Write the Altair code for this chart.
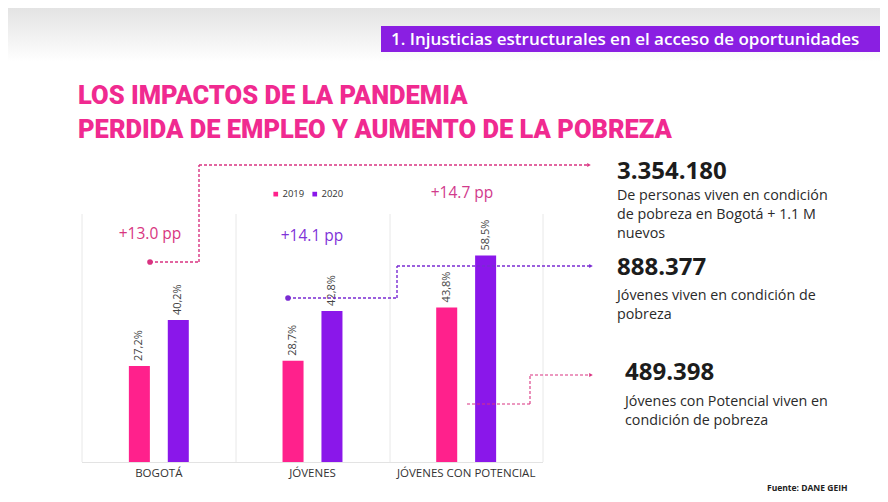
import altair as alt
import pandas as pd

# ---------------- data ----------------
categories = ["BOGOTÁ", "JÓVENES", "JÓVENES CON POTENCIAL"]
years = ["2019", "2020"]
values_2019 = [27.2, 28.7, 43.8]
values_2020 = [40.2, 42.8, 58.5]
changes = ["+13.0 pp", "+14.1 pp", "+14.7 pp"]
header_text = "1. Injusticias estructurales en el acceso de oportunidades"
title_lines = ["LOS IMPACTOS DE LA PANDEMIA", "PERDIDA DE EMPLEO Y AUMENTO DE LA POBREZA"]
stat_numbers = ["3.354.180", "888.377", "489.398"]
stat_texts = [
    ["De personas viven en condición", "de pobreza en Bogotá + 1.1 M", "nuevos"],
    ["Jóvenes viven en condición de", "pobreza"],
    ["Jóvenes con Potencial viven en", "condición de pobreza"],
]
source_text = "Fuente: DANE GEIH"

# ---------------- styling ----------------
PINK = "#FF218C"
PURPLE = "#8A17EA"
TITLE_PINK = "#F02A90"
HEADER_PURPLE = "#8A1FE2"
LINE_PINK = "#D93381"
LINE_PURPLE = "#7A2BD2"
FONT = "Open Sans"

W, H = 872, 486
OFF = 8


def px(v):
    return v - OFF


rows = []
for c, a, b in zip(categories, values_2019, values_2020):
    for y, v in zip(years, (a, b)):
        rows.append({"cat": c, "year": y, "value": v,
                     "label": f"{v:.1f}".replace(".", ",") + "%"})
bars_df = pd.DataFrame(rows)
cat_df = pd.DataFrame({"cat": categories})
one = pd.DataFrame({"k": [0]})


def base1():
    return alt.Chart(one)


layers = []

# top gray gradient band
layers.append(base1().mark_rect(
    color=alt.Gradient(gradient="linear",
                       stops=[alt.GradientStop(color="#e3e3e3", offset=0),
                              alt.GradientStop(color="#ffffff", offset=1)],
                       x1=0, x2=0, y1=0, y2=1)
).encode(x=alt.value(0), x2=alt.value(W), y=alt.value(0), y2=alt.value(px(62))))

# header band
layers.append(base1().mark_rect(color=HEADER_PURPLE).encode(
    x=alt.value(px(381)), x2=alt.value(W), y=alt.value(px(26)), y2=alt.value(px(52))))
layers.append(base1().mark_text(
    text=header_text, color="white", font=FONT, fontSize=17, fontWeight=600,
    align="left", baseline="middle").encode(x=alt.value(px(391)), y=alt.value(px(39.5))))

# main title
layers.append(base1().mark_text(
    text=title_lines, color=TITLE_PINK, font="Roboto", fontSize=25.5,
    fontWeight=900, align="left", baseline="alphabetic", lineHeight=34
).encode(x=alt.value(px(78)), y=alt.value(px(104))))

# vertical separators
for gx in (82, 236, 390, 543):
    layers.append(base1().mark_rule(color="#e8e8e8", strokeWidth=1).encode(
        x=alt.value(px(gx)), y=alt.value(px(214)), y2=alt.value(px(462))))
# baseline
layers.append(base1().mark_rule(color="#e3e3e3", strokeWidth=1).encode(
    x=alt.value(px(82)), x2=alt.value(px(543)), y=alt.value(px(462.5))))

# scales
x_enc = alt.X("cat:N", sort=categories, axis=None,
              scale=alt.Scale(range=[px(82), px(543)], paddingInner=0.61, paddingOuter=0.305))
xo_enc = alt.XOffset("year:N", sort=years, scale=alt.Scale(paddingInner=0.46, paddingOuter=0))
y_enc = alt.Y("value:Q", axis=None,
              scale=alt.Scale(domain=[0, 70], range=[px(462), px(462) - 3.53 * 70]))

bars = alt.Chart(bars_df).mark_bar().encode(
    x=x_enc, xOffset=xo_enc, y=y_enc,
    color=alt.Color("year:N", sort=years,
                    scale=alt.Scale(domain=years, range=[PINK, PURPLE]),
                    legend=alt.Legend(orient="none", legendX=px(271), legendY=px(189),
                                      direction="horizontal", title=None,
                                      symbolType="square", symbolSize=22,
                                      labelFontSize=9.5, labelFont=FONT, labelColor="#333",
                                      columnPadding=5, labelOffset=2, padding=0,
                                      symbolStrokeWidth=0)),
)
layers.append(bars)

labels = alt.Chart(bars_df).mark_text(
    angle=270, align="left", baseline="middle", dx=5, fontSize=11, font=FONT, color="#444"
).encode(x=x_enc, xOffset=xo_enc, y=y_enc, text="label:N")
layers.append(labels)

# category labels
cat_labels = alt.Chart(cat_df).mark_text(
    font=FONT, fontSize=11.5, color="#333", baseline="middle", fontWeight=500
).encode(x=x_enc, y=alt.value(px(474)), text="cat:N")
layers.append(cat_labels)

# change annotations
pp_pos = [(150, 234, "#D8367F"), (312, 236, "#7F33D8"), (462, 193, "#D13A8C")]
for txt, (cx, cy, col) in zip(changes, pp_pos):
    layers.append(base1().mark_text(text=txt, font=FONT, fontSize=15.5, color=col,
                                    align="center", baseline="middle").encode(
        x=alt.value(px(cx)), y=alt.value(px(cy))))


# connectors
def hseg(x1, x2, y, col, w=1.4):
    return base1().mark_rule(color=col, strokeWidth=w, strokeDash=[3, 2]).encode(
        x=alt.value(px(x1)), x2=alt.value(px(x2)), y=alt.value(px(y)))


def vseg(x, y1, y2, col, w=1.4):
    return base1().mark_rule(color=col, strokeWidth=w, strokeDash=[3, 2]).encode(
        x=alt.value(px(x)), y=alt.value(px(y1)), y2=alt.value(px(y2)))


def dot(x, y, col):
    return base1().mark_circle(color=col, size=32, opacity=1).encode(
        x=alt.value(px(x)), y=alt.value(px(y)))


def arrow(x, y, col):
    return base1().mark_point(shape="triangle-right", filled=True, color=col, size=18,
                              opacity=1).encode(x=alt.value(px(x)), y=alt.value(px(y)))


# Bogotá connector
layers += [dot(150, 262, LINE_PINK), hseg(150, 199, 262, LINE_PINK), vseg(199, 262, 165, LINE_PINK),
           hseg(199, 588, 165, LINE_PINK), arrow(589, 165, LINE_PINK)]
# Jóvenes connector
layers += [dot(288, 298, LINE_PURPLE), hseg(288, 397, 298, LINE_PURPLE), vseg(397, 298, 266, LINE_PURPLE),
           hseg(397, 590, 266, LINE_PURPLE), arrow(591, 266, LINE_PURPLE)]
# Jóvenes con potencial connector
layers += [hseg(467, 530, 404, LINE_PINK, 1.1), vseg(530, 404, 375, LINE_PINK, 1.1),
           hseg(530, 590, 375, LINE_PINK, 1.1), arrow(591, 375, LINE_PINK)]

# right side stats
stat_pos = [(617, 172, 196), (617, 268, 296), (625, 373, 402)]
for num, lines, (sx, ny, ty) in zip(stat_numbers, stat_texts, stat_pos):
    layers.append(base1().mark_text(text=num, font=FONT, fontSize=24, fontWeight="bold",
                                    color="#1c1c1c", align="left", baseline="middle").encode(
        x=alt.value(px(sx)), y=alt.value(px(ny))))
    layers.append(base1().mark_text(text=lines, font=FONT, fontSize=14.3, color="#2a2a2a",
                                    align="left", baseline="middle", lineHeight=19).encode(
        x=alt.value(px(sx)), y=alt.value(px(ty))))

# source
layers.append(base1().mark_text(text=source_text, font=FONT, fontSize=8.5, fontWeight="bold",
                                color="#222", align="left", baseline="bottom").encode(
    x=alt.value(px(767)), y=alt.value(H - 1)))

chart = alt.layer(*layers).properties(
    width=W, height=H, padding=0, background="white",
    autosize=alt.AutoSizeParams(type="none"),
).configure_view(stroke=None)

chart.save("out.html", embed_options={"renderer": "svg", "actions": False})
